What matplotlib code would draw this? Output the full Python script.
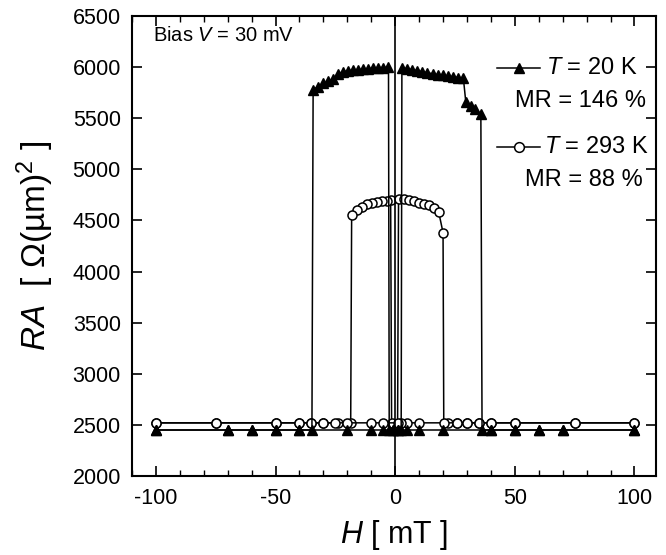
import matplotlib
matplotlib.use("Agg")
import matplotlib.pyplot as plt
from matplotlib.lines import Line2D
from matplotlib.ticker import MultipleLocator

plt.rcParams['font.family'] = ['Liberation Sans', 'DejaVu Sans']
plt.rcParams['mathtext.fontset'] = 'custom'
plt.rcParams['mathtext.rm'] = 'Liberation Sans'
plt.rcParams['mathtext.it'] = 'Liberation Sans:italic'

# ---------------- data ----------------
# T = 20 K, field swept down (+100 -> -100)
h20_down = [100, 70, 60, 50, 40, 20, 10, 5, 1, -1, -2.5,
            -2.8, -4.9, -7.0, -9.1, -11.2, -13.3, -15.4, -17.5, -19.6, -21.7,
            -23.8, -25.9, -28.0, -30.1, -32.2, -34.3,
            -34.8, -40, -50, -60, -70, -100]
ra20_down = [2450, 2450, 2450, 2450, 2450, 2450, 2450, 2450, 2450, 2450, 2450,
             6000, 5995, 5995, 5990, 5985, 5980, 5975, 5970, 5965, 5955,
             5935, 5880, 5860, 5840, 5810, 5780,
             2450, 2450, 2450, 2450, 2450, 2450]
# T = 20 K, field swept up (-100 -> +100)
h20_up = [-100, -70, -60, -50, -40, -20, -10, -5, -1, 1, 2.5,
          2.8, 4.9, 7.0, 9.2, 11.3, 13.5, 15.6, 17.8, 19.9, 22.0, 24.2, 26.3, 28.5,
          29.5, 31.5, 33.5, 35.8,
          36.3, 40, 50, 60, 70, 100]
ra20_up = [2450, 2450, 2450, 2450, 2450, 2450, 2450, 2450, 2450, 2450, 2450,
           5990, 5985, 5975, 5965, 5955, 5945, 5935, 5925, 5918, 5910, 5905, 5898, 5890,
           5660, 5620, 5590, 5540,
           2450, 2450, 2450, 2450, 2450, 2450]

# T = 293 K, field swept down
h293_down = [100, 75, 50, 40, 35, 30, 26, 22, 10, 5, 2.5, -1.5,
             -1.9, -3.5, -5.6, -7.7, -9.8, -11.9, -14.0, -16.1, -18.2,
             -18.6, -24, -30, -35, -40, -50, -75, -100]
ra293_down = [2520, 2520, 2520, 2520, 2520, 2520, 2520, 2520, 2520, 2520, 2520, 2520,
              4700, 4693, 4690, 4683, 4673, 4657, 4634, 4600, 4553,
              2520, 2520, 2520, 2520, 2520, 2520, 2520, 2520]
# T = 293 K, field swept up
h293_up = [-100, -75, -50, -40, -35, -30, -25, -20, -10, -5, 1.0,
           1.4, 3.5, 5.6, 7.7, 9.8, 11.9, 14.0, 16.1, 18.2, 20.0,
           20.3, 26, 30, 35, 40, 50, 75, 100]
ra293_up = [2520, 2520, 2520, 2520, 2520, 2520, 2520, 2520, 2520, 2520, 2520,
            4706, 4706, 4700, 4687, 4673, 4663, 4650, 4624, 4580, 4380,
            2520, 2520, 2520, 2520, 2520, 2520, 2520, 2520]

xticks = [-100, -50, 0, 50, 100]
yticks = [2000, 2500, 3000, 3500, 4000, 4500, 5000, 5500, 6000, 6500]

# ---------------- figure ----------------
fig = plt.figure(figsize=(6.66, 5.55), dpi=100)
ax = fig.add_axes([132/666, 1-476/555, (656-132)/666, (476-16)/555])

lw = 1.1
tri = dict(color='black', lw=lw, marker='^', ms=6.5, mfc='black', mec='black')
circ = dict(color='black', lw=lw, marker='o', ms=6.5, mfc='white', mec='black', mew=1.1)

ax.plot(h293_down, ra293_down, **circ, zorder=3)
ax.plot(h293_up, ra293_up, **circ, zorder=3)
ax.plot(h20_down, ra20_down, **tri, zorder=4)
ax.plot(h20_up, ra20_up, **tri, zorder=4)

ax.axvline(0, color='black', lw=1.2, zorder=5)

ax.set_xlim(-110, 109)
ax.set_ylim(2000, 6500)
ax.set_xticks(xticks)
ax.set_xticklabels([str(v) for v in xticks])
ax.set_yticks(yticks)
ax.set_yticklabels([str(v) for v in yticks])
ax.xaxis.set_minor_locator(MultipleLocator(10))

ax.tick_params(which='major', direction='in', length=7, width=1.2,
               top=True, right=True, labelsize=15.5, pad=8)
ax.tick_params(which='minor', direction='in', length=4, width=1.0,
               top=True, right=False, left=False)
ax.tick_params(axis='x', which='major', pad=9)
for s in ax.spines.values():
    s.set_linewidth(1.5)

ax.set_xlabel(r'$\it{H}$ [ mT ]', fontsize=22, labelpad=6)
ax.set_ylabel(r'$\it{RA}$  [ Ω(µm)$^2$ ]', fontsize=24, labelpad=12)

ax.text(0.04, 0.957, r'Bias $\it{V}$ = 30 mV', transform=ax.transAxes,
        fontsize=14.5, ha='left', va='center')

# legend-like annotation
y1 = 1 - (68-16)/460
y2 = 1 - (101-16)/460
y3 = 1 - (147-16)/460
y4 = 1 - (180-16)/460
xa, xb = (497-132)/524, (540-132)/524
ax.add_line(Line2D([xa, xb], [y1, y1], transform=ax.transAxes, color='black', lw=lw))
ax.add_line(Line2D([(xa+xb)/2], [y1], transform=ax.transAxes, color='black',
                   marker='^', ms=7, mfc='black', mec='black', ls='none'))
ax.add_line(Line2D([xa, xb], [y3, y3], transform=ax.transAxes, color='black', lw=lw))
ax.add_line(Line2D([(xa+xb)/2], [y3], transform=ax.transAxes, color='black',
                   marker='o', ms=7, mfc='white', mec='black', mew=1.1, ls='none'))
ax.text((546-132)/524, y1, r'$\it{T}$ = 20 K', transform=ax.transAxes,
        fontsize=17, ha='left', va='center')
ax.text((646-132)/524, y2, 'MR = 146 %', transform=ax.transAxes,
        fontsize=17, ha='right', va='center')
ax.text((544-132)/524, y3, r'$\it{T}$ = 293 K', transform=ax.transAxes,
        fontsize=17, ha='left', va='center')
ax.text((643-132)/524, y4, 'MR = 88 %', transform=ax.transAxes,
        fontsize=17, ha='right', va='center')

fig.savefig('out.png', dpi=100)
